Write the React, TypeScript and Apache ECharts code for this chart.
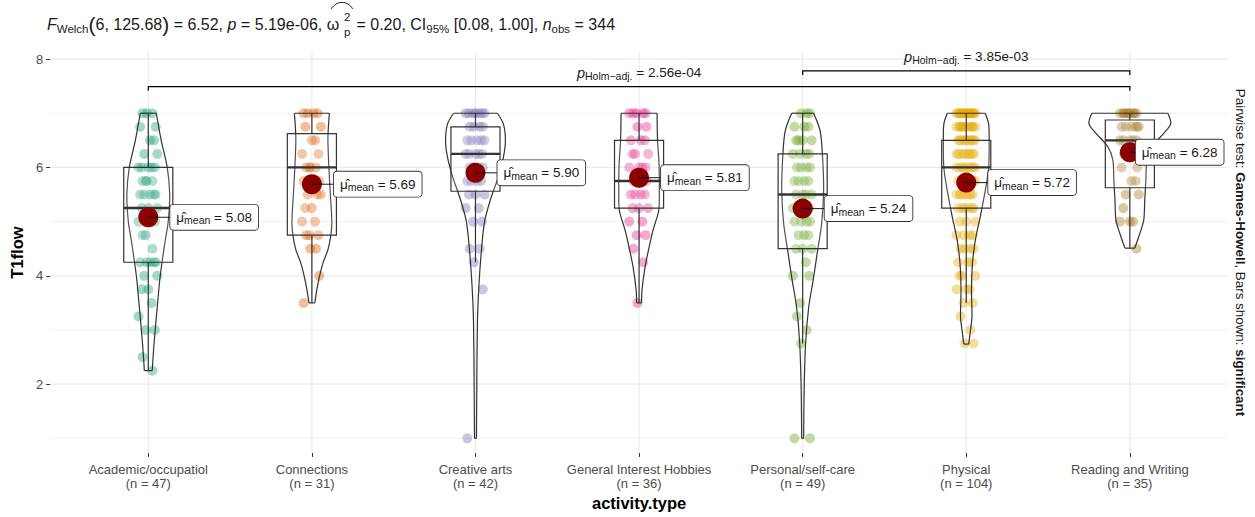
import React, { useEffect, useRef } from 'react';
import * as echarts from 'echarts';

const FONT = '"Liberation Sans", Arial, Helvetica, sans-serif';

// ---------------- data ----------------
const CATEGORIES = [
  'Academic/occupatiol',
  'Connections',
  'Creative arts',
  'General Interest Hobbies',
  'Personal/self-care',
  'Physical',
  'Reading and Writing',
];
const N_OBS = [47, 31, 42, 36, 49, 104, 35];
const MEANS = [5.08, 5.69, 5.9, 5.81, 5.24, 5.72, 6.28];
const MEAN_LABELS = ['5.08', '5.69', '5.90', '5.81', '5.24', '5.72', '6.28'];
const COLORS = ['#1B9E77', '#D95F02', '#7570B3', '#E7298A', '#66A61E', '#E6AB02', '#A6761D'];

// [whisker low, Q1, median, Q3, whisker high]
const BOX_STATS = [
  [2.25, 4.25, 5.25, 6.0, 7.0],
  [3.5, 4.75, 6.0, 6.625, 7.0],
  [4.25, 5.56, 6.25, 6.75, 7.0],
  [3.5, 5.25, 5.75, 6.5, 7.0],
  [2.75, 4.5, 5.5, 6.25, 7.0],
  [3.5, 5.25, 6.0, 6.5, 7.0],
  [4.5, 5.625, 6.5, 6.875, 7.0],
];

// violin half-width (x-axis units) at each value
const VIOLIN_ACADEMIC = [[7.0, 0.049], [6.5, 0.079], [6.0, 0.116], [5.5, 0.131], [5.0, 0.122], [4.66, 0.104], [4.0, 0.073], [3.43, 0.055], [3.13, 0.046], [2.7, 0.034], [2.25, 0.024]];
const VIOLIN_CONNECTIONS = [[7.0, 0.107], [6.75, 0.101], [6.5, 0.098], [6.0, 0.104], [5.5, 0.113], [5.0, 0.122], [4.75, 0.116], [4.48, 0.098], [4.23, 0.067], [3.98, 0.046], [3.74, 0.03], [3.5, 0.018]];
const VIOLIN_CREATIVE = [[7.0, 0.134], [6.8, 0.171], [6.49, 0.183], [6.19, 0.171], [5.83, 0.14], [5.4, 0.091], [4.99, 0.055], [4.38, 0.034], [3.76, 0.02], [3.15, 0.012], [1.92, 0.008], [1.0, 0.006]];
const VIOLIN_GENERAL = [[7.0, 0.11], [6.5, 0.113], [6.06, 0.122], [5.57, 0.124], [5.2, 0.12], [4.84, 0.085], [4.48, 0.058], [4.17, 0.037], [3.74, 0.018], [3.5, 0.015]];
const VIOLIN_PERSONAL = [[7.0, 0.067], [6.67, 0.107], [6.18, 0.122], [5.57, 0.128], [4.96, 0.116], [4.46, 0.091], [3.97, 0.067], [3.42, 0.037], [2.75, 0.018], [1.89, 0.009], [1.0, 0.006]];
const VIOLIN_PHYSICAL = [[7.0, 0.116], [6.8, 0.137], [6.49, 0.14], [6.0, 0.137], [5.57, 0.116], [5.08, 0.085], [4.65, 0.055], [4.22, 0.038], [3.73, 0.032], [3.24, 0.035], [3.0, 0.026], [2.74, 0.015]];
const VIOLIN_READING = [[7.0, 0.232], [6.81, 0.25], [6.63, 0.207], [6.38, 0.134], [6.14, 0.104], [5.77, 0.098], [5.4, 0.091], [5.03, 0.085], [4.78, 0.061], [4.51, 0.03]];
const VIOLINS = [VIOLIN_ACADEMIC, VIOLIN_CONNECTIONS, VIOLIN_CREATIVE, VIOLIN_GENERAL, VIOLIN_PERSONAL, VIOLIN_PHYSICAL, VIOLIN_READING];

// observations: [value, count]
const PTS_ACADEMIC = [[7, 3], [6.75, 2], [6.5, 2], [6.25, 2], [6, 5], [5.75, 4], [5.5, 5], [5.25, 3], [5, 3], [4.75, 2], [4.5, 1], [4.25, 5], [4, 2], [3.75, 2], [3.5, 1], [3.25, 1], [3, 2], [2.5, 1], [2.25, 1]];
const PTS_CONNECTIONS = [[7, 4], [6.75, 2], [6.5, 2], [6.25, 2], [6, 4], [5.75, 3], [5.5, 3], [5.25, 2], [5, 2], [4.75, 3], [4.5, 2], [4, 1], [3.5, 1]];
const PTS_CREATIVE = [[7, 7], [6.75, 4], [6.5, 5], [6.25, 5], [6, 5], [5.75, 4], [5.5, 3], [5.25, 2], [5, 2], [4.5, 2], [4.25, 1], [3.75, 1], [1, 1]];
const PTS_GENERAL = [[7, 5], [6.75, 2], [6.5, 3], [6.25, 3], [6, 4], [5.75, 5], [5.5, 4], [5.25, 3], [5, 2], [4.75, 2], [4.5, 1], [4.25, 1], [3.5, 1]];
const PTS_PERSONAL = [[7, 3], [6.75, 3], [6.5, 4], [6.25, 4], [6, 4], [5.75, 4], [5.5, 4], [5.25, 4], [5, 4], [4.75, 3], [4.5, 3], [4.25, 1], [4, 2], [3.5, 1], [3.25, 1], [3, 1], [2.75, 1], [1, 2]];
const PTS_PHYSICAL = [[7, 16], [6.75, 10], [6.5, 10], [6.25, 10], [6, 9], [5.75, 9], [5.5, 8], [5.25, 6], [5, 3], [4.75, 4], [4.5, 4], [4.25, 3], [4, 3], [3.75, 3], [3.5, 2], [3.25, 1], [3, 1], [2.75, 2]];
const PTS_READING = [[7, 9], [6.75, 6], [6.5, 5], [6.25, 4], [6, 2], [5.75, 2], [5.5, 2], [5.25, 1], [5, 3], [4.5, 1]];
const POINTS = [PTS_ACADEMIC, PTS_CONNECTIONS, PTS_CREATIVE, PTS_GENERAL, PTS_PERSONAL, PTS_PHYSICAL, PTS_READING];

// hand-picked horizontal jitter offsets (x units)
const JITTER = [-0.035, 0.025, -0.01, 0.045, -0.05, 0.01, 0.035, -0.025, 0.055, -0.04, 0.0, 0.02, -0.06, 0.04, -0.015];

// pairwise comparisons (group index from, to, p value)
const COMPARISONS = [
  { from: 0, to: 6, p: '2.56e-04' },
  { from: 4, to: 6, p: '3.85e-03' },
];

// ---------------- layout ----------------
const X_MIN = 0.4;
const X_MAX = 7.6;
const Y_MIN = 0.73;
const Y_MAX = 8.13;
const BRACKET_LEVELS = [7.49, 7.78];
const LABEL_NUDGE = [22, 22, 22, 22, 22, 22, 6];
const BOX_HALF = 0.15;
const LINE_COLOR = '#333333';
const INK = '#1a1a1a';

function buildOption() {
  const pointData: any[] = [];
  POINTS.forEach((list, g) => {
    let k = g * 4;
    list.forEach(([v, c]) => {
      for (let j = 0; j < c; j++) {
        pointData.push({
          value: [g + 1 + JITTER[k % JITTER.length], v],
          itemStyle: { color: COLORS[g], opacity: 0.4 },
        });
        k++;
      }
    });
  });

  const catIdx = CATEGORIES.map((_, i) => [i + 1, MEANS[i]]);

  const gridSeries = {
    type: 'custom',
    z: 0,
    silent: true,
    data: [[1, 1]],
    renderItem: (params: any, api: any) => {
      const children: any[] = [];
      [1, 3, 5, 7].forEach((y) => {
        const a = api.coord([X_MIN, y]);
        const b = api.coord([X_MAX, y]);
        children.push({ type: 'line', shape: { x1: a[0], y1: a[1], x2: b[0], y2: b[1] }, style: { stroke: '#F0F0F0', lineWidth: 1 } });
      });
      [2, 4, 6, 8].forEach((y) => {
        const a = api.coord([X_MIN, y]);
        const b = api.coord([X_MAX, y]);
        children.push({ type: 'line', shape: { x1: a[0], y1: a[1], x2: b[0], y2: b[1] }, style: { stroke: '#EBEBEB', lineWidth: 1.2 } });
      });
      CATEGORIES.forEach((_, i) => {
        const a = api.coord([i + 1, Y_MIN]);
        const b = api.coord([i + 1, Y_MAX]);
        children.push({ type: 'line', shape: { x1: a[0], y1: a[1], x2: b[0], y2: b[1] }, style: { stroke: '#EBEBEB', lineWidth: 1.2 } });
      });
      return { type: 'group', children };
    },
  };

  const violinBoxSeries = {
    type: 'custom',
    z: 3,
    silent: true,
    data: catIdx,
    renderItem: (params: any, api: any) => {
      const i = params.dataIndex;
      const x = i + 1;
      const prof = VIOLINS[i];
      const right = prof.map(([v, w]) => api.coord([x + w, v]));
      const left = prof.map(([v, w]) => api.coord([x - w, v]));
      const lineStyle = { stroke: LINE_COLOR, lineWidth: 1.2, fill: null };
      const children: any[] = [
        { type: 'polyline', shape: { points: right, smooth: 0.3 }, style: lineStyle },
        { type: 'polyline', shape: { points: left, smooth: 0.3 }, style: lineStyle },
        { type: 'line', shape: { x1: left[0][0], y1: left[0][1], x2: right[0][0], y2: right[0][1] }, style: lineStyle },
        {
          type: 'line',
          shape: { x1: left[left.length - 1][0], y1: left[left.length - 1][1], x2: right[right.length - 1][0], y2: right[right.length - 1][1] },
          style: lineStyle,
        },
      ];
      const [lo, q1, med, q3, hi] = BOX_STATS[i];
      const tl = api.coord([x - BOX_HALF, q3]);
      const br = api.coord([x + BOX_HALF, q1]);
      const m1 = api.coord([x - BOX_HALF, med]);
      const m2 = api.coord([x + BOX_HALF, med]);
      const wTop = api.coord([x, hi]);
      const wQ3 = api.coord([x, q3]);
      const wQ1 = api.coord([x, q1]);
      const wLo = api.coord([x, lo]);
      children.push(
        { type: 'rect', shape: { x: tl[0], y: tl[1], width: br[0] - tl[0], height: br[1] - tl[1] }, style: { stroke: LINE_COLOR, lineWidth: 1.2, fill: 'rgba(255,255,255,0.15)' } },
        { type: 'line', shape: { x1: m1[0], y1: m1[1], x2: m2[0], y2: m2[1] }, style: { stroke: LINE_COLOR, lineWidth: 2.4 } },
        { type: 'line', shape: { x1: wTop[0], y1: wTop[1], x2: wQ3[0], y2: wQ3[1] }, style: { stroke: LINE_COLOR, lineWidth: 1.2 } },
        { type: 'line', shape: { x1: wQ1[0], y1: wQ1[1], x2: wLo[0], y2: wLo[1] }, style: { stroke: LINE_COLOR, lineWidth: 1.2 } }
      );
      return { type: 'group', children };
    },
  };

  const labelRich = {
    mu: { fontSize: 13.5, lineHeight: 17, fontFamily: FONT, fill: INK, verticalAlign: 'middle' },
    sub: { fontSize: 10.5, lineHeight: 10, fontFamily: FONT, fill: INK, verticalAlign: 'bottom' },
    v: { fontSize: 13.5, lineHeight: 17, fontFamily: FONT, fill: INK, verticalAlign: 'middle' },
  };

  const meanLabelSeries = {
    type: 'custom',
    z: 6,
    silent: true,
    data: catIdx,
    renderItem: (params: any, api: any) => {
      const i = params.dataIndex;
      const c = api.coord([i + 1, MEANS[i]]);
      const lx = c[0] + LABEL_NUDGE[i];
      return {
        type: 'group',
        children: [
          { type: 'line', shape: { x1: c[0], y1: c[1], x2: lx, y2: c[1] }, style: { stroke: '#000', lineWidth: 0.9 } },
          {
            type: 'text',
            x: lx,
            y: c[1],
            style: {
              text: `{mu|μ̂}{sub|mean}{v| = ${MEAN_LABELS[i]}}`,
              rich: labelRich,
              textAlign: 'left',
              textVerticalAlign: 'middle',
              align: 'left',
              verticalAlign: 'middle',
              backgroundColor: '#ffffff',
              borderColor: '#333333',
              borderWidth: 0.9,
              borderRadius: 3,
              padding: [4, 6, 4, 6],
            },
          },
        ],
      };
    },
  };

  const pRich = {
    it: { fontSize: 14.5, fontStyle: 'italic', lineHeight: 18, fontFamily: FONT, fill: INK, verticalAlign: 'middle' },
    sub: { fontSize: 10.5, lineHeight: 10, fontFamily: FONT, fill: INK, verticalAlign: 'bottom' },
    t: { fontSize: 13.5, lineHeight: 18, fontFamily: FONT, fill: INK, verticalAlign: 'middle' },
  };

  const bracketSeries = {
    type: 'custom',
    z: 5,
    silent: true,
    data: COMPARISONS.map((c, k) => [c.from + 1, BRACKET_LEVELS[k]]),
    renderItem: (params: any, api: any) => {
      const k = params.dataIndex;
      const cmp = COMPARISONS[k];
      const a = api.coord([cmp.from + 1, BRACKET_LEVELS[k]]);
      const b = api.coord([cmp.to + 1, BRACKET_LEVELS[k]]);
      return {
        type: 'group',
        children: [
          {
            type: 'polyline',
            shape: { points: [[a[0], a[1] + 4], a, b, [b[0], b[1] + 4]] },
            style: { stroke: '#000', lineWidth: 1.2, fill: null },
          },
          {
            type: 'text',
            x: (a[0] + b[0]) / 2,
            y: a[1] - 14,
            style: {
              text: `{it|p}{sub|Holm−adj.}{t| = ${cmp.p}}`,
              rich: pRich,
              textAlign: 'center',
              textVerticalAlign: 'middle',
              align: 'center',
              verticalAlign: 'middle',
            },
          },
        ],
      };
    },
  };

  const titleRich = {
    t: { fontSize: 16, lineHeight: 22, fontFamily: FONT, fill: INK, verticalAlign: 'middle' },
    it: { fontSize: 16, fontStyle: 'italic', lineHeight: 22, fontFamily: FONT, fill: INK, verticalAlign: 'middle' },
    sub: { fontSize: 11.5, lineHeight: 12, fontFamily: FONT, fill: INK, verticalAlign: 'bottom' },
    big: { fontSize: 21, lineHeight: 22, fontFamily: FONT, fill: INK, verticalAlign: 'middle' },
  };

  const sideRich = {
    n: { fontSize: 13.4, fontFamily: FONT, fill: INK },
    b: { fontSize: 13.4, fontFamily: FONT, fontWeight: 'bold', fill: INK },
  };

  return {
    animation: false,
    backgroundColor: '#ffffff',
    textStyle: { fontFamily: FONT },
    grid: { left: 47, right: 27, top: 52, bottom: 64, containLabel: false },
    xAxis: {
      type: 'value',
      min: X_MIN,
      max: X_MAX,
      axisLine: { show: false },
      splitLine: { show: false },
      axisTick: { show: true, customValues: [1, 2, 3, 4, 5, 6, 7], length: 4, lineStyle: { color: LINE_COLOR } },
      axisLabel: {
        customValues: [1, 2, 3, 4, 5, 6, 7],
        formatter: (v: number) => {
          const i = Math.round(v) - 1;
          return `${CATEGORIES[i]}\n(n = ${N_OBS[i]})`;
        },
        color: '#4D4D4D',
        fontSize: 13,
        lineHeight: 14,
        margin: 9,
        fontFamily: FONT,
      },
      name: 'activity.type',
      nameLocation: 'middle',
      nameGap: 37,
      nameTextStyle: { fontWeight: 'bold', fontSize: 16.5, color: '#000', fontFamily: FONT },
    },
    yAxis: {
      type: 'value',
      min: Y_MIN,
      max: Y_MAX,
      axisLine: { show: false },
      splitLine: { show: false },
      axisTick: { show: true, customValues: [2, 4, 6, 8], length: 4, lineStyle: { color: LINE_COLOR } },
      axisLabel: { customValues: [2, 4, 6, 8], color: '#4D4D4D', fontSize: 13, margin: 7, fontFamily: FONT },
      name: 'T1flow',
      nameLocation: 'middle',
      nameGap: 21,
      nameTextStyle: { fontWeight: 'bold', fontSize: 16.5, color: '#000', fontFamily: FONT },
    },
    graphic: [
      {
        type: 'text',
        x: 47,
        y: 24,
        style: {
          text: '{it|F}{sub|Welch}{big|(}{t|6, 125.68}{big|)}{t| = 6.52, }{it|p}{t| = 5.19e-06, ω}',
          rich: titleRich,
          textVerticalAlign: 'middle',
          verticalAlign: 'middle',
        },
      },
      {
        type: 'text',
        x: 344,
        y: 17,
        style: { text: '2', fontSize: 11.5, fontFamily: FONT, fill: INK, textVerticalAlign: 'middle', verticalAlign: 'middle' },
      },
      {
        type: 'text',
        x: 344,
        y: 32,
        style: { text: 'p', fontSize: 11.5, fontFamily: FONT, fill: INK, textVerticalAlign: 'middle', verticalAlign: 'middle' },
      },
      {
        type: 'polyline',
        shape: { points: [[331, 9], [336, 4], [342, 2.5], [348, 4], [353, 9]], smooth: 0.4 },
        style: { stroke: INK, lineWidth: 1, fill: null },
      },
      {
        type: 'text',
        x: 352,
        y: 24,
        style: {
          text: '{t| = 0.20, CI}{sub|95%}{t| [0.08, 1.00], }{it|n}{sub|obs}{t| = 344}',
          rich: titleRich,
          textVerticalAlign: 'middle',
          verticalAlign: 'middle',
        },
      },
      {
        type: 'text',
        x: 1240,
        y: 252.5,
        rotation: -Math.PI / 2,
        style: {
          text: '{n|Pairwise test: }{b|Games-Howell}{n|, Bars shown: }{b|significant}',
          rich: sideRich,
          textAlign: 'center',
          textVerticalAlign: 'middle',
          align: 'center',
          verticalAlign: 'middle',
        },
      },
    ],
    series: [
      gridSeries,
      {
        type: 'scatter',
        z: 2,
        silent: true,
        symbolSize: 10,
        data: pointData,
      },
      violinBoxSeries,
      {
        type: 'scatter',
        z: 4,
        silent: true,
        symbolSize: 20,
        itemStyle: { color: '#8B0000', opacity: 1 },
        data: catIdx,
      },
      meanLabelSeries,
      bracketSeries,
    ],
  };
}

export default function App() {
  const ref = useRef<HTMLDivElement>(null);
  useEffect(() => {
    const chart = echarts.init(ref.current as HTMLDivElement, null, { renderer: 'svg' });
    chart.setOption(buildOption() as any);
    return () => chart.dispose();
  }, []);
  return <div ref={ref} style={{ position: 'fixed', left: 0, top: 0, width: 1255, height: 517 }} />;
}
